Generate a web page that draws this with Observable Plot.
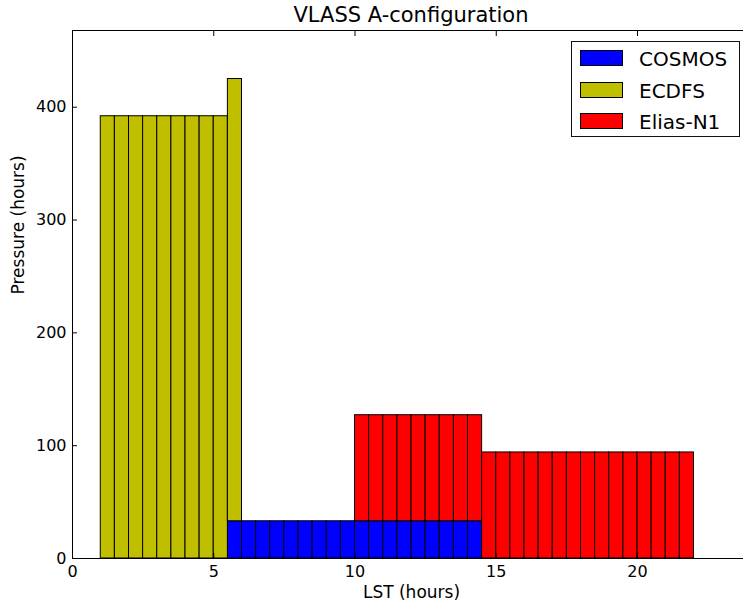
<!DOCTYPE html>
<html>
<head>
<meta charset="utf-8">
<script src="https://cdn.jsdelivr.net/npm/d3@7"></script>
<script src="https://cdn.jsdelivr.net/npm/@observablehq/plot@0.6"></script>
<style>
html,body{margin:0;padding:0;overflow:hidden;background:#fff;}
body{font-family:"DejaVu Sans",sans-serif;color:#000;}
#wrap{position:relative;width:743px;height:603px;overflow:hidden;}
#title{height:24px;line-height:30px;font-size:21px;text-align:center;margin-left:72px;width:678px;white-space:nowrap;overflow:visible;}
#chart svg{max-width:none !important;display:block;}
#legend{position:absolute;left:571px;top:41px;width:167px;height:94px;border:1px solid #111;background:#fff;}
#legend .patch{position:absolute;left:8px;width:41px;height:14px;border:1px solid #000;}
#legend .lab{position:absolute;left:67px;font-size:20px;line-height:20px;white-space:nowrap;}
</style>
</head>
<body>
<div id="wrap">
  <div id="title"></div>
  <div id="chart"></div>
  <div id="legend"></div>
</div>
<script>
// ---- data ----
const titleText = "VLASS A-configuration";
const xLabel = "LST (hours)";
const yLabel = "Pressure (hours)";
const seriesNames = ["COSMOS", "ECDFS", "Elias-N1"];
const seriesColors = ["#0000ff", "#bfbf00", "#ff0000"];
const binWidth = 0.5;
const binStart = [0,0.5,1,1.5,2,2.5,3,3.5,4,4.5,
                  5,5.5,6,6.5,7,7.5,8,8.5,9,9.5,
                  10,10.5,11,11.5,12,12.5,13,13.5,14,14.5,
                  15,15.5,16,16.5,17,17.5,18,18.5,19,19.5,
                  20,20.5,21,21.5,22,22.5,23,23.5];
const cosmos = [0,0,0,0,0,0,0,0,0,0,
                0,33,33,33,33,33,33,33,33,33,
                33,33,33,33,33,33,33,33,33,0,
                0,0,0,0,0,0,0,0,0,0,
                0,0,0,0,0,0,0,0];
const ecdfs  = [0,0,392,392,392,392,392,392,392,392,
                392,392,0,0,0,0,0,0,0,0,
                0,0,0,0,0,0,0,0,0,0,
                0,0,0,0,0,0,0,0,0,0,
                0,0,0,0,0,0,0,0];
const elias  = [0,0,0,0,0,0,0,0,0,0,
                0,0,0,0,0,0,0,0,0,0,
                94,94,94,94,94,94,94,94,94,94,
                94,94,94,94,94,94,94,94,94,94,
                94,94,94,94,0,0,0,0];
const xTicks = [0, 5, 10, 15, 20];
const yTicks = [0, 100, 200, 300, 400];
const xDomain = [0, 24];
const yDomain = [0, 468];

// ---- table ----
const seriesValues = [cosmos, ecdfs, elias];
const rows = [];
seriesNames.forEach((name, s) => {
  binStart.forEach((b, i) => {
    rows.push({series: name, x1: b, x2: b + binWidth, value: seriesValues[s][i]});
  });
});

document.getElementById("title").textContent = titleText;

const chart = Plot.plot({
  width: 755,
  height: 579,
  marginTop: 6,
  marginBottom: 45,
  marginLeft: 72,
  marginRight: 5,
  style: {fontFamily: "DejaVu Sans, sans-serif", fontSize: "16px", background: "white", color: "black", maxWidth: "none", overflow: "visible"},
  x: {domain: xDomain},
  y: {domain: yDomain},
  color: {domain: seriesNames, range: seriesColors},
  marks: [
    Plot.rectY(rows, {x1: "x1", x2: "x2", y: "value", fill: "series", z: "series", stroke: "black", strokeWidth: 1}),
    Plot.axisX({anchor: "bottom", ticks: xTicks, tickSize: -5, tickPadding: 12, label: null, fontSize: 16}),
    Plot.axisX({anchor: "top", ticks: xTicks, tickSize: -5, tickFormat: () => "", label: null}),
    Plot.axisY({anchor: "left", ticks: yTicks, tickSize: -5, tickPadding: 11, label: null, fontSize: 16}),
    Plot.axisY({anchor: "right", ticks: yTicks, tickSize: -5, tickFormat: () => "", label: null}),
    Plot.frame({stroke: "black", strokeWidth: 1}),
    Plot.text([xLabel], {text: d => d, frameAnchor: "bottom", dy: 39, fontSize: 17}),
    Plot.text([yLabel], {text: d => d, frameAnchor: "left", dx: -54, rotate: -90, fontSize: 17})
  ]
});
document.getElementById("chart").appendChild(chart);

// legend
const legend = document.getElementById("legend");
const patchTops = [8, 39.7, 71.4];
const labTops = [6.8, 38.5, 70.2];
seriesNames.forEach((name, i) => {
  const p = document.createElement("div");
  p.className = "patch";
  p.style.top = patchTops[i] + "px";
  p.style.background = seriesColors[i];
  legend.appendChild(p);
  const t = document.createElement("div");
  t.className = "lab";
  t.style.top = labTops[i] + "px";
  t.textContent = name;
  legend.appendChild(t);
});
</script>
</body>
</html>
